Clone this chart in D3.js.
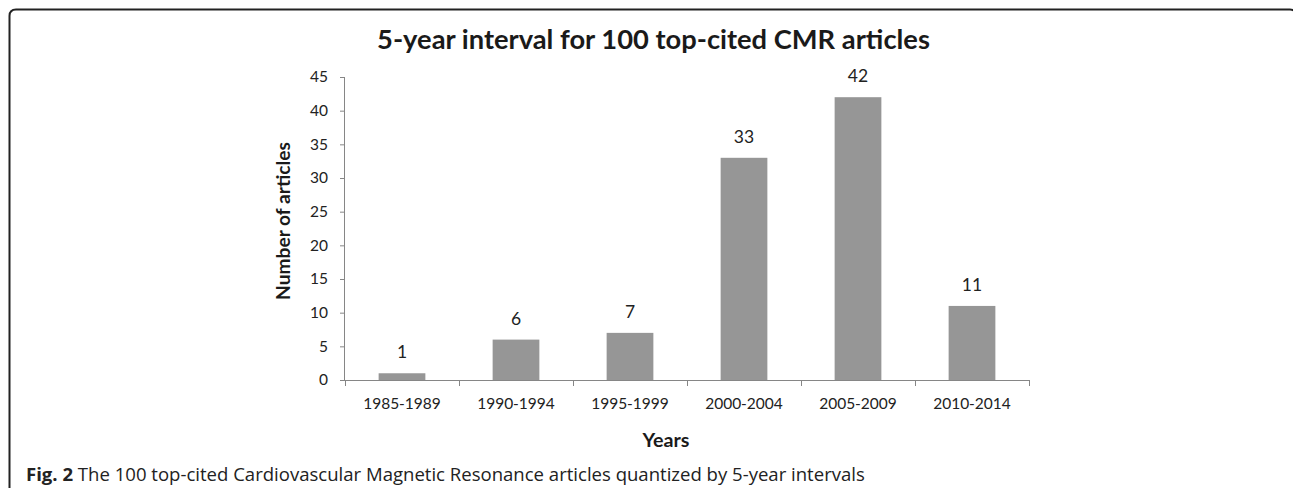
<!DOCTYPE html>
<html><head><meta charset="utf-8">
<script src="https://cdn.jsdelivr.net/npm/d3@7"></script>
<style>body{margin:0;background:#fff}svg{display:block}</style>
</head><body>
<svg id="c" width="1293" height="488"></svg>
<script>
const categories = ["1985-1989","1990-1994","1995-1999","2000-2004","2005-2009","2010-2014"];
const values = [1, 6, 7, 33, 42, 11];
const yTicks = [0,5,10,15,20,25,30,35,40,45];
const titleText = "5-year interval for 100 top-cited CMR articles";
const xTitle = "Years", yTitle = "Number of articles";
const captionBold = "Fig. 2", captionText = " The 100 top-cited Cardiovascular Magnetic Resonance articles quantized by 5-year intervals";

const svg = d3.select("#c");
const chartFont = "Lato, 'Open Sans', sans-serif";
const capFont = "'Open Sans', 'Noto Sans', sans-serif";

function fit(sel, size, target){
  sel.attr("font-size", size);
  const w = sel.node().getComputedTextLength();
  sel.attr("font-size", size*target/w);
}

// frame
svg.append("path")
  .attr("d", "M9.5,488 L9.5,16 Q9.5,9.5 16,9.5 L1290,9.5 Q1296,9.5 1297,16")
  .attr("fill","none").attr("stroke","#222").attr("stroke-width",2);

const x = d3.scaleBand().domain(categories).range([345,1029]).paddingInner(0.59).paddingOuter(0.295);
const y = d3.scaleLinear().domain([0,45]).range([380,77]);

const gy = svg.append("g").attr("transform","translate(345,0)")
  .call(d3.axisLeft(y).tickValues(yTicks).tickSize(5).tickPadding(12));
gy.select(".domain").attr("stroke","#868686").attr("d","M-0.5,77.5V380.5");
gy.selectAll(".tick line").attr("stroke","#868686");
gy.selectAll("text").attr("font-family",chartFont).attr("font-size",15.5).attr("fill","#222");

const xb = d3.scaleLinear().domain([0,6]).range([345,1029]);
const gx = svg.append("g").attr("transform","translate(0,380)")
  .call(d3.axisBottom(xb).tickValues(d3.range(0,7)).tickSize(6).tickFormat(""));
gx.select(".domain").attr("stroke","#868686").attr("d","M345,0.5H1030");
gx.selectAll(".tick line").attr("stroke","#868686");

svg.append("g").selectAll("text").data(categories).join("text")
  .attr("x", d => x(d) + x.bandwidth()/2).attr("y", 409)
  .attr("text-anchor","middle").attr("font-family",chartFont).attr("font-size",15.5).attr("fill","#222")
  .text(d => d);

svg.append("g").selectAll("rect").data(values).join("rect")
  .attr("x",(d,i)=>x(categories[i])).attr("width",x.bandwidth())
  .attr("y",d=>y(d)).attr("height",d=>y(0)-y(d)).attr("fill","#969696");

svg.append("g").selectAll("text").data(values).join("text")
  .attr("x",(d,i)=>x(categories[i])+x.bandwidth()/2).attr("y",d=>y(d)-15)
  .attr("text-anchor","middle").attr("font-family",chartFont).attr("font-size",17.5).attr("fill","#222")
  .text(d=>d);

const t = svg.append("text").attr("x",653.5).attr("y",49).attr("text-anchor","middle")
  .attr("font-family",chartFont).attr("font-weight","bold").attr("fill","#1a1a1a")
  .text(titleText);
fit(t, 25, 553);

const xt = svg.append("text").attr("x",666).attr("y",447).attr("text-anchor","middle")
  .attr("font-family",chartFont).attr("font-weight","bold").attr("fill","#1a1a1a")
  .text(xTitle);
fit(xt, 16, 47);

const yt = svg.append("text").attr("transform","translate(290,221) rotate(-90)").attr("text-anchor","middle")
  .attr("font-family",chartFont).attr("font-weight","bold").attr("fill","#1a1a1a")
  .text(yTitle);
fit(yt, 16, 158);

const cap = svg.append("text").attr("x",26).attr("y",481)
  .attr("font-family",capFont).attr("fill","#222");
cap.append("tspan").attr("font-weight","bold").text(captionBold);
cap.append("tspan").text(captionText);
fit(cap, 16, 839);
</script>
</body></html>
